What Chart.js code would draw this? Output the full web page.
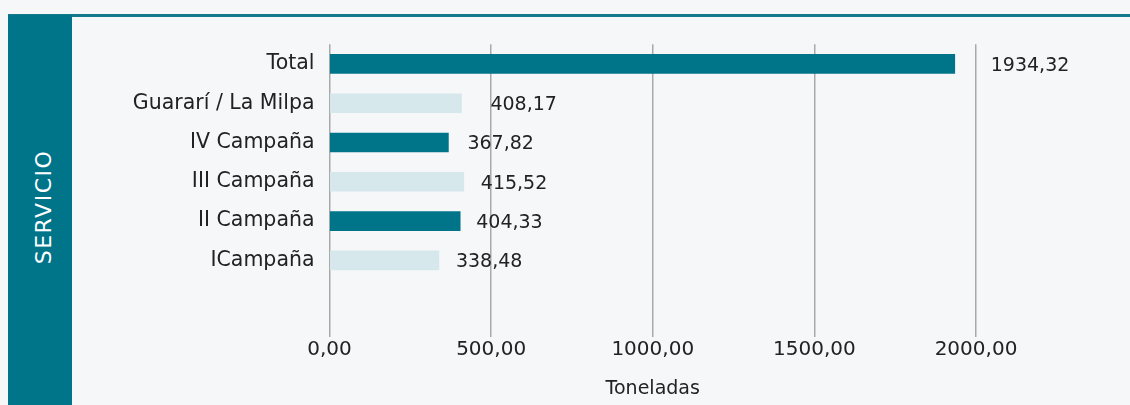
<!DOCTYPE html>
<html><head><meta charset="utf-8">
<script src="https://cdn.jsdelivr.net/npm/chart.js@4/dist/chart.umd.min.js"></script>
<style>
html,body{margin:0;padding:0;background:#f6f7f9;width:1130px;height:405px;overflow:hidden;font-family:"DejaVu Sans",sans-serif;}
#topline{position:absolute;left:8px;top:14px;width:1122px;height:3px;background:#13798b;}
#band{position:absolute;left:8px;top:15px;width:64px;height:390px;background:#00758a;}
#side{position:absolute;left:43px;top:207px;transform:translate(-50%,-50%) rotate(-90deg);color:#fff;font-size:22px;letter-spacing:1.5px;white-space:nowrap;}
#wrap{position:absolute;left:72px;top:17px;width:1058px;height:388px;}
</style></head><body>
<div id="topline"></div>
<div id="band"></div>
<div id="side">SERVICIO</div>
<div id="wrap"><canvas id="c" width="1058" height="388"></canvas></div>
<script>
const categories = ['Total', 'Guararí / La Milpa', 'IV Campaña', 'III Campaña', 'II Campaña', 'ICampaña'];
const toneladas = [1934.32, 408.17, 367.82, 415.52, 404.33, 338.48];
const barColors = ['#00758a', '#d6e8ec', '#00758a', '#d6e8ec', '#00758a', '#d6e8ec'];
const xTickValues = [0, 500, 1000, 1500, 2000];
const xTickLabels = ['0,00', '500,00', '1000,00', '1500,00', '2000,00'];
const valueLabels = ['1934,32', '408,17', '367,82', '415,52', '404,33', '338,48'];
const axisTitle = 'Toneladas';

const FONT = '"DejaVu Sans"';
const TEXT = '#222222';

const valueLabelPlugin = {
  id: 'valueLabels',
  afterDatasetsDraw(chart, args, opts) {
    const meta = chart.getDatasetMeta(0);
    const ctx = chart.ctx;
    ctx.save();
    ctx.font = '19px ' + FONT;
    ctx.fillStyle = TEXT;
    ctx.textBaseline = 'middle';
    ctx.textAlign = 'left';
    meta.data.forEach((bar, i) => {
      ctx.fillText(valueLabels[i], bar.x + opts.offsets[i], bar.y + 2);
    });
    ctx.restore();
  }
};

new Chart(document.getElementById('c'), {
  type: 'bar',
  data: {
    labels: categories,
    datasets: [{
      data: toneladas,
      backgroundColor: barColors,
      borderWidth: 0,
      barThickness: 19
    }]
  },
  plugins: [valueLabelPlugin],
  options: {
    indexAxis: 'y',
    responsive: false,
    animation: false,
    layout: { padding: { top: 25, right: 154, left: 0, bottom: 0 } },
    plugins: {
      legend: { display: false },
      tooltip: { enabled: false },
      valueLabels: { offsets: [36, 29, 19, 17, 16, 17] }
    },
    scales: {
      x: {
        min: 0, max: 2000,
        afterBuildTicks: s => { s.ticks = xTickValues.map(v => ({ value: v })); },
        ticks: {
          callback: (v, i) => xTickLabels[i],
          font: { family: FONT, size: 20 },
          color: TEXT, padding: 1, maxRotation: 0, autoSkip: false
        },
        grid: { color: '#a9a9a9', lineWidth: 1.5, tickLength: 57, drawTicks: true },
        border: { display: false },
        title: {
          display: true, text: axisTitle,
          font: { family: FONT, size: 19 }, color: TEXT,
          padding: { top: 0, bottom: 5 }
        },
        afterFit: s => { s.height = 125; }
      },
      y: {
        grid: { display: false, drawTicks: false },
        border: { display: false },
        ticks: { font: { family: FONT, size: 20.5 }, color: TEXT, padding: 15 },
        afterFit: s => { s.width = 257.5; }
      }
    }
  }
});
</script>
</body></html>
